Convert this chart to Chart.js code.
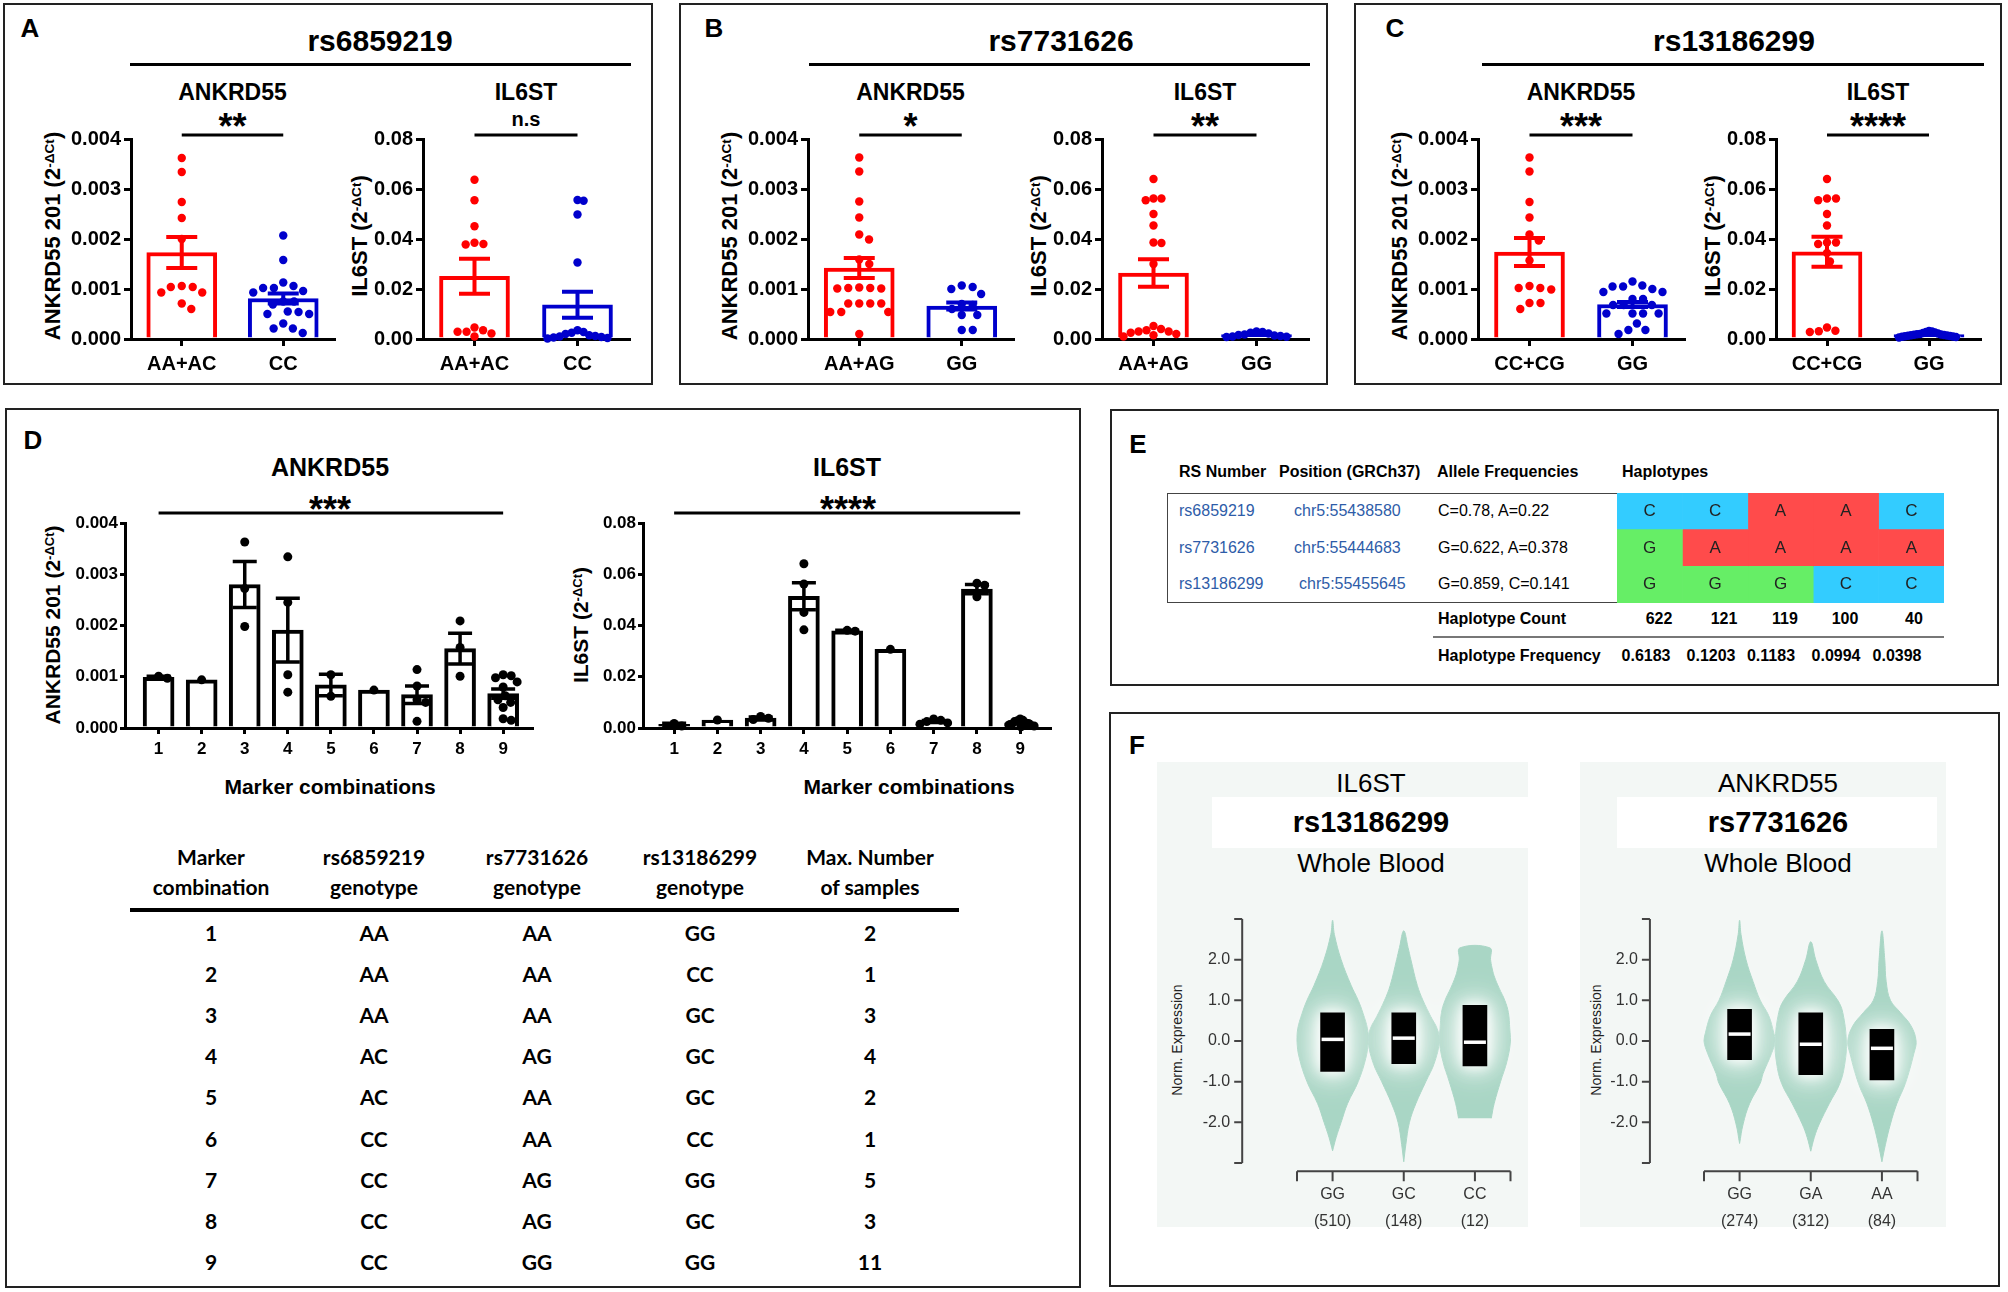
<!DOCTYPE html>
<html>
<head>
<meta charset="utf-8">
<title>ANKRD55 / IL6ST expression by genotype</title>
<script src="https://cdn.jsdelivr.net/npm/chart.js@4.4.1/dist/chart.umd.min.js"></script>
<style>
  body { margin: 0; background: #fff; }
  #page { position: relative; width: 2008px; height: 1292px; overflow: hidden; font-family: "Liberation Sans", Arial, sans-serif; color: #000; }
  #page div, #page canvas { position: absolute; }
  .t { transform: translate(-50%, -50%); white-space: nowrap; line-height: 1; }
  .tl { transform: translate(0, -50%); white-space: nowrap; line-height: 1; }
  .v { transform: translate(-50%, -50%) rotate(-90deg); white-space: nowrap; line-height: 1; }
  sup { font-size: 0.62em; position: relative; top: -0.45em; vertical-align: baseline; }
</style>
</head>
<body>
<div id="page"></div>
<script>
// ---------- panels A-C : expression by genotype group ----------
const groupsA = ['AA+AC', 'CC'];
const groupsB = ['AA+AG', 'GG'];
const groupsC = ['CC+CG', 'GG'];

const ankA_mean = [0.00173, 0.00081];
const ankA_sem = [0.00031, 0.00010];
const ankA_pts = [
  [0.00362, 0.00334, 0.00274, 0.00242, 0.00200, 0.00106, 0.00104, 0.00104, 0.00093, 0.00093, 0.00071, 0.00060],
  [0.00207, 0.00158, 0.00113, 0.00106, 0.00102, 0.00102, 0.00096, 0.00093, 0.00075, 0.00075, 0.00069, 0.00055,
   0.00054, 0.00050, 0.00050, 0.00031, 0.00021, 0.00021, 0.00012]
];
const il6A_mean = [0.0251, 0.0137];
const il6A_sem = [0.0070, 0.0052];
const il6A_pts = [
  [0.0637, 0.0555, 0.0451, 0.0385, 0.0380, 0.0378, 0.0046, 0.0035, 0.0029, 0.0029, 0.0022, 0.0010],
  [0.0556, 0.0553, 0.0498, 0.0306, 0.0035, 0.0028, 0.0025, 0.0020, 0.0015, 0.0012, 0.0010, 0.0008, 0.0006, 0.0004, 0.0002]
];

const ankB_mean = [0.00142, 0.00066];
const ankB_sem = [0.00020, 0.00007];
const ankB_pts = [
  [0.00363, 0.00335, 0.00275, 0.00243, 0.00209, 0.00199, 0.00159, 0.00150, 0.00103, 0.00102, 0.00102, 0.00101,
   0.00101, 0.00071, 0.00071, 0.00071, 0.00071, 0.00054, 0.00054, 0.00054, 0.00010],
  [0.00107, 0.00104, 0.00100, 0.00090, 0.00070, 0.00068, 0.00060, 0.00048, 0.00048, 0.00018, 0.00018]
];
const il6B_mean = [0.0264, 0.0018];
const il6B_sem = [0.0055, 0.0002];
const il6B_pts = [
  [0.0640, 0.0562, 0.0562, 0.0555, 0.0500, 0.0454, 0.0386, 0.0384, 0.0300, 0.0052, 0.0040, 0.0035, 0.0030,
   0.0030, 0.0025, 0.0020, 0.0015, 0.0010],
  [0.0030, 0.0028, 0.0025, 0.0022, 0.0018, 0.0016, 0.0014, 0.0012, 0.0010, 0.0009, 0.0008]
];

const ankC_mean = [0.00174, 0.00069];
const ankC_sem = [0.00028, 0.00005];
const ankC_pts = [
  [0.00363, 0.00335, 0.00274, 0.00243, 0.00209, 0.00197, 0.00157, 0.00106, 0.00102, 0.00102, 0.00099, 0.00072,
   0.00072, 0.00060],
  [0.00115, 0.00107, 0.00105, 0.00105, 0.00100, 0.00094, 0.00094, 0.00080, 0.00080, 0.00068, 0.00068, 0.00068,
   0.00051, 0.00051, 0.00051, 0.00051, 0.00031, 0.00018, 0.00018, 0.00010]
];
const il6C_mean = [0.0349, 0.0018];
const il6C_sem = [0.0060, 0.0002];
const il6C_pts = [
  [0.0640, 0.0562, 0.0562, 0.0555, 0.0500, 0.0454, 0.0386, 0.0386, 0.0380, 0.0344, 0.0310, 0.0046, 0.0033,
   0.0031, 0.0028],
  [0.0032, 0.0030, 0.0028, 0.0026, 0.0024, 0.0022, 0.0020, 0.0019, 0.0018, 0.0017, 0.0016, 0.0015, 0.0014,
   0.0013, 0.0012, 0.0011, 0.0010, 0.0009, 0.0008, 0.0006]
];

// ---------- panel D : marker combinations ----------
const markers = [1, 2, 3, 4, 5, 6, 7, 8, 9];
const ankD_mean = [0.00099, 0.00094, 0.00280, 0.00191, 0.00084, 0.00074, 0.00065, 0.00155, 0.00067];
const ankD_sem = [0.00002, 0, 0.00045, 0.00062, 0.00021, 0, 0.00017, 0.00030, 0.00009];
const ankD_pts = [
  [0.00097, 0.00101], [0.00094], [0.00363, 0.00272, 0.00198], [0.00334, 0.00245, 0.00104, 0.00070],
  [0.00104, 0.00062], [0.00074], [0.00114, 0.00082, 0.00055, 0.00050, 0.00013], [0.00209, 0.00157, 0.00101],
  [0.00104, 0.00102, 0.00098, 0.00090, 0.00080, 0.00063, 0.00055, 0.00050, 0.00040, 0.00018, 0.00015]
];
const il6D_mean = [0.0014, 0.0031, 0.0039, 0.0514, 0.0379, 0.0307, 0.0025, 0.0542, 0.0020];
const il6D_sem = [0.0005, 0, 0.0004, 0.0053, 0.0002, 0, 0.0004, 0.0018, 0.0003];
const il6D_pts = [
  [0.0008, 0.0018], [0.0031], [0.0045, 0.0038, 0.0033], [0.0641, 0.0562, 0.0451, 0.0383], [0.0381, 0.0378],
  [0.0307], [0.0035, 0.0030, 0.0025, 0.0020, 0.0015], [0.0565, 0.0557, 0.0512],
  [0.0035, 0.0030, 0.0028, 0.0025, 0.0020, 0.0018, 0.0015, 0.0012, 0.0010, 0.0008, 0.0005]
];
const geno6859219 = ['AA', 'AA', 'AA', 'AC', 'AC', 'CC', 'CC', 'CC', 'CC'];
const geno7731626 = ['AA', 'AA', 'AA', 'AG', 'AA', 'AA', 'AG', 'AG', 'GG'];
const geno13186299 = ['GG', 'CC', 'GC', 'GC', 'GC', 'CC', 'GG', 'GC', 'GG'];
const maxSamples = [2, 1, 3, 4, 2, 1, 5, 3, 11];

// ---------- panel E : haplotypes ----------
const snpIds = ['rs6859219', 'rs7731626', 'rs13186299'];
const snpPos = ['chr5:55438580', 'chr5:55444683', 'chr5:55455645'];
const alleleFreq = ['C=0.78, A=0.22', 'G=0.622, A=0.378', 'G=0.859, C=0.141'];
const haplotypes = ['CGG', 'CAG', 'AAG', 'AAC', 'CAC'];
const haploCount = [622, 121, 119, 100, 40];
const haploFreq = ['0.6183', '0.1203', '0.1183', '0.0994', '0.0398'];

// ---------- panel F : eQTL violins ----------
const il6Geno = ['GG', 'GC', 'CC'];
const il6N = [510, 148, 12];
const il6VioY = [
  [-2.70, -2.37, -2.00, -1.54, -1.00, -0.40, 0.00, 0.30, 0.67, 1.00, 1.37, 2.00, 2.62, 2.97],
  [-2.97, -2.54, -2.00, -1.54, -1.00, -0.54, 0.00, 0.30, 0.60, 1.00, 1.37, 2.00, 2.30, 2.71],
  [-1.90, -1.54, -1.00, -0.50, 0.00, 0.30, 0.70, 1.00, 1.30, 1.60, 1.80, 2.00, 2.29]
];
const il6VioW = [
  [0, 0.05, 0.12, 0.21, 0.36, 0.47, 0.50, 0.49, 0.43, 0.36, 0.26, 0.12, 0.025, 0],
  [0, 0.03, 0.08, 0.17, 0.31, 0.43, 0.50, 0.47, 0.38, 0.27, 0.19, 0.10, 0.06, 0],
  [0.23, 0.27, 0.36, 0.45, 0.50, 0.49, 0.47, 0.42, 0.34, 0.27, 0.24, 0.22, 0.21]
];
const il6Q1 = [-0.75, -0.56, -0.61];
const il6Q3 = [0.69, 0.69, 0.875];
const il6Med = [0.04, 0.07, -0.03];

const ankGeno = ['GG', 'GA', 'AA'];
const ankN = [274, 312, 84];
const ankVioY = [
  [-2.52, -2.04, -1.54, -1.04, -0.80, -0.30, 0.00, 0.20, 0.62, 1.00, 1.46, 2.00, 2.62, 2.97],
  [-2.71, -2.37, -2.04, -1.54, -1.04, -0.54, 0.00, 0.70, 1.00, 1.46, 2.00, 2.44],
  [-2.97, -2.54, -2.04, -1.54, -1.04, -0.30, 0.00, 0.37, 0.70, 1.00, 1.46, 2.00, 2.71]
];
const ankVioW = [
  [0, 0.05, 0.14, 0.29, 0.33, 0.45, 0.50, 0.48, 0.41, 0.29, 0.19, 0.09, 0.02, 0],
  [0, 0.05, 0.12, 0.26, 0.41, 0.48, 0.50, 0.45, 0.38, 0.19, 0.07, 0],
  [0, 0.05, 0.12, 0.21, 0.33, 0.45, 0.48, 0.41, 0.26, 0.12, 0.06, 0.04, 0]
];
const ankQ1 = [-0.46, -0.83, -0.96];
const ankQ3 = [0.78, 0.69, 0.29];
const ankMed = [0.17, -0.08, -0.18];

const vioTicks = [-3, -2, -1, 0, 1, 2, 3];
const vioTickLabels = [-2, -1, 0, 1, 2];

// ---------- helpers ----------
Chart.defaults.font.family = "'Liberation Sans', Arial, sans-serif";
Chart.defaults.color = '#000';
const RED = '#ff0000';
const BLUE = '#0000cc';
const VIO = '#a9d6c5';
const alleleColor = { A: '#ff4b4b', C: '#33ccff', G: '#66ee66' };

const page = document.getElementById('page');
function div(cls, x, y, html, css) {
  const d = document.createElement('div');
  d.className = cls;
  d.style.left = x + 'px';
  d.style.top = y + 'px';
  if (css) d.style.cssText += css;
  d.innerHTML = html;
  page.appendChild(d);
  return d;
}
function box(x, y, w, h, css) {
  return div('', x, y, '', 'width:' + w + 'px;height:' + h + 'px;box-sizing:border-box;' + css);
}
function canvasAt(x, y, w, h) {
  const c = document.createElement('canvas');
  c.width = w; c.height = h;
  c.style.left = x + 'px'; c.style.top = y + 'px';
  c.style.width = w + 'px'; c.style.height = h + 'px';
  page.appendChild(c);
  return c;
}

// spread points sideways (beeswarm) so they don't sit on top of each other
const swarmPlugin = {
  id: 'swarm',
  afterDatasetsUpdate(chart) {
    chart.data.datasets.forEach((ds, i) => {
      if (!ds.swarm) return;
      const D = ds.swarm;
      const meta = chart.getDatasetMeta(i);
      const groups = {};
      meta.data.forEach((el, j) => {
        const k = ds.data[j].x;
        (groups[k] = groups[k] || []).push(el);
      });
      Object.values(groups).forEach(els => {
        const cx = els[0].x;
        const placed = [];
        els.slice().sort((a, b) => a.y - b.y).forEach(el => {
          const cands = [0];
          placed.forEach(p => {
            const dy = el.y - p.y;
            if (Math.abs(dy) < D) {
              const w = Math.sqrt(D * D - dy * dy);
              cands.push(p.dx + w, p.dx - w);
            }
          });
          cands.sort((a, b) => Math.abs(a) - Math.abs(b));
          const dx = cands.find(c => placed.every(p => (c - p.dx) ** 2 + (el.y - p.y) ** 2 >= D * D - 0.5));
          placed.push({ dx: dx, y: el.y, el: el });
        });
        // squeeze wide clusters back inside the bar
        const widest = Math.max(...placed.map(p => Math.abs(p.dx)));
        const k = widest > ds.swarmMax ? ds.swarmMax / widest : 1;
        placed.forEach(p => { p.el.x = cx + p.dx * k; });
      });
    });
  }
};

// mean +/- SEM whiskers
const errPlugin = {
  id: 'err',
  afterDatasetsDraw(chart) {
    const { ctx, scales: { y } } = chart;
    chart.data.datasets.forEach((ds, i) => {
      if (!ds.sem) return;
      const meta = chart.getDatasetMeta(i);
      ctx.save();
      ctx.lineWidth = ds.errWidth;
      meta.data.forEach((el, j) => {
        const s = ds.sem[j];
        if (!s) return;
        const d = ds.data[j];
        const m = typeof d === 'object' ? d.y : d;
        const yt = y.getPixelForValue(m + s), yb = y.getPixelForValue(m - s);
        const hw = ds.capW / 2;
        ctx.strokeStyle = Array.isArray(ds.errColor) ? ds.errColor[j] : ds.errColor;
        ctx.beginPath();
        ctx.moveTo(el.x, yt); ctx.lineTo(el.x, yb);
        ctx.moveTo(el.x - hw, yt); ctx.lineTo(el.x + hw, yt);
        ctx.moveTo(el.x - hw, yb); ctx.lineTo(el.x + hw, yb);
        ctx.stroke();
      });
      ctx.restore();
    });
  }
};

// significance bar above the plot
const sigPlugin = {
  id: 'sig',
  afterDraw(chart, args, o) {
    if (!o || o.from === undefined) return;
    const { ctx, chartArea, scales: { x } } = chart;
    const y = chartArea.top - o.dy;
    ctx.save();
    ctx.strokeStyle = '#000';
    ctx.lineWidth = 3;
    ctx.beginPath();
    ctx.moveTo(x.getPixelForValue(o.from), y);
    ctx.lineTo(x.getPixelForValue(o.to), y);
    ctx.stroke();
    ctx.restore();
  }
};

function axisY(max, step, dec, size, tl, pad, YW) {
  return {
    min: 0, max: max,
    ticks: { stepSize: step, callback: v => v.toFixed(dec), font: { size: size, weight: 'bold' }, color: '#000', padding: pad },
    grid: { drawOnChartArea: false, tickLength: tl, lineWidth: 3, color: '#000' },
    border: { display: true, width: 3, color: '#000' },
    afterFit: s => { s.width = YW; }
  };
}

// bar + dots chart for two genotype groups (panels A-C)
function groupChart(s) {
  const t = 134, b = 339, YW = 66, XH = 40, PL = 24;
  const cv = canvasAt(s.l - YW - PL, t - 10, s.r - s.l + YW + PL + 12, b - t + 10 + XH + 8);
  const colors = [RED, BLUE];
  new Chart(cv, {
    type: 'bar',
    data: {
      labels: s.groups,
      datasets: [
        ...s.pts.map((p, g) => ({
          type: 'scatter', data: p.map(v => ({ x: s.groups[g], y: v })), backgroundColor: colors[g],
          borderWidth: 0, pointRadius: 4.2, swarm: s.swarm, swarmMax: 30, clip: false
        })),
        {
          data: s.mean, sem: s.sem, backgroundColor: '#fff', borderColor: colors, borderWidth: 4,
          barThickness: 70, errColor: colors, errWidth: 4, capW: 31
        }
      ]
    },
    options: {
      responsive: false, animation: false, events: [],
      layout: { padding: { left: PL, top: 10, right: 12, bottom: 8 } },
      plugins: { legend: { display: false }, tooltip: { enabled: false }, sig: { from: 0, to: 1, dy: 4 } },
      scales: {
        x: {
          offset: true,
          ticks: { font: { size: 20, weight: 'bold' }, color: '#000', padding: 6 },
          grid: { offset: false, drawOnChartArea: false, tickLength: 7, lineWidth: 3, color: '#000' },
          border: { display: true, width: 3, color: '#000' },
          afterFit: sc => { sc.height = XH; }
        },
        y: axisY(s.axis.max, s.axis.step, s.axis.dec, 20, 7, 3, YW)
      }
    },
    plugins: [swarmPlugin, errPlugin, sigPlugin]
  });
}

// bar + dots chart over the nine marker combinations (panel D)
function comboChart(s) {
  const t = 523, b = 728, YW = 60, XH = 34, PL = 20;
  const cv = canvasAt(s.l - YW - PL, t - 15, s.r - s.l + YW + PL + 12, b - t + 15 + XH + 8);
  new Chart(cv, {
    type: 'bar',
    data: {
      datasets: [
        {
          type: 'scatter', data: s.pts.flatMap((p, i) => p.map(v => ({ x: markers[i], y: v }))),
          backgroundColor: '#000', borderWidth: 0, pointRadius: 4.5, swarm: s.swarm, swarmMax: 14, clip: false
        },
        {
          data: markers.map((m, i) => ({ x: m, y: s.mean[i] })), sem: s.sem, backgroundColor: '#fff',
          borderColor: '#000', borderWidth: 4, barThickness: 31, errColor: '#000', errWidth: 3.5, capW: 24
        }
      ]
    },
    options: {
      responsive: false, animation: false, events: [],
      layout: { padding: { left: PL, top: 15, right: 12, bottom: 8 } },
      plugins: { legend: { display: false }, tooltip: { enabled: false }, sig: { from: 1, to: 9, dy: 10 } },
      scales: {
        x: {
          type: 'linear', min: s.min, max: s.max, offset: false,
          afterBuildTicks: sc => { sc.ticks = markers.map(v => ({ value: v })); },
          ticks: { font: { size: 17, weight: 'bold' }, color: '#000', padding: 5 },
          grid: { offset: false, drawOnChartArea: false, tickLength: 6, lineWidth: 3, color: '#000' },
          border: { display: true, width: 3, color: '#000' },
          afterFit: sc => { sc.height = XH; }
        },
        y: axisY(s.axis.max, s.axis.step, s.axis.dec, 17, 5, 2, YW)
      }
    },
    plugins: [swarmPlugin, errPlugin, sigPlugin]
  });
}

// white halo around the box, like the GTEx violin rendering
const glowPlugin = {
  id: 'glow',
  beforeDatasetDraw(chart, args) {
    const ds = chart.data.datasets[args.index];
    if (!ds.glow) return;
    const ctx = chart.ctx;
    ctx.save();
    ctx.fillStyle = 'rgba(255,255,255,0.9)';
    ctx.shadowColor = 'rgba(255,255,255,1)';
    args.meta.data.forEach(el => {
      const top = Math.min(el.y, el.base), h = Math.abs(el.base - el.y);
      [40, 30, 20, 12].forEach(bl => {
        ctx.shadowBlur = bl;
        ctx.fillRect(el.x - el.width / 2, top, el.width, h);
      });
    });
    ctx.restore();
  }
};

// detached GTEx style axes drawn from the chart scales
const vioAxesPlugin = {
  id: 'vaxes',
  afterDraw(chart, args, o) {
    if (!o || !o.labels) return;
    const { ctx, scales: { x, y } } = chart;
    ctx.save();
    ctx.strokeStyle = '#444';
    ctx.lineWidth = 2;
    const ax = x.getPixelForValue(o.yAxisAt);
    const yt = y.getPixelForValue(y.max), yb = y.getPixelForValue(y.min);
    ctx.beginPath();
    ctx.moveTo(ax, yt); ctx.lineTo(ax, yb);
    o.yTicks.forEach(v => { const p = y.getPixelForValue(v); ctx.moveTo(ax, p); ctx.lineTo(ax - 8, p); });
    const ay = y.getPixelForValue(o.xAxisAt);
    const xl = x.getPixelForValue(x.min), xr = x.getPixelForValue(x.max);
    ctx.moveTo(xl, ay); ctx.lineTo(xr, ay);
    [x.min, ...o.labels.map((_, i) => i), x.max].forEach(v => {
      const p = x.getPixelForValue(v);
      ctx.moveTo(p, ay); ctx.lineTo(p, ay + 10);
    });
    ctx.stroke();
    ctx.fillStyle = '#333';
    ctx.font = "16px 'Liberation Sans', Arial, sans-serif";
    ctx.textAlign = 'right';
    ctx.textBaseline = 'middle';
    o.yLabels.forEach(v => ctx.fillText(v.toFixed(1), ax - 12, y.getPixelForValue(v)));
    ctx.textAlign = 'center';
    o.labels.forEach((l, i) => {
      const p = x.getPixelForValue(i);
      ctx.fillText(l, p, ay + 23);
      ctx.fillText('(' + o.counts[i] + ')', p, ay + 50);
    });
    ctx.restore();
  }
};

function outline(c, ys, ws) {
  const pts = ys.map((y, k) => ({ x: c + ws[k], y: y }));
  for (let k = ys.length - 1; k >= 0; k--) {
    if (k === ys.length - 1 && ws[k] === 0) continue;
    pts.push({ x: c - ws[k], y: ys[k] });
  }
  return pts;
}

function violinChart(s) {
  const t = 919, b = 1163;
  const cv = canvasAt(s.l - 137, t - 19, 137 + (s.r - s.l) + 14, 19 + (b - t) + 77);
  new Chart(cv, {
    type: 'scatter',
    data: {
      datasets: [
        {
          data: s.med.map((m, i) => ({ x: i, y: m })), pointStyle: 'line', pointRadius: 11,
          borderColor: '#fff', borderWidth: 3.5, clip: false
        },
        {
          type: 'bar', data: s.q1.map((q, i) => ({ x: i, y: [q, s.q3[i]] })), backgroundColor: '#000',
          borderWidth: 0, barThickness: 24, glow: true
        },
        ...s.vy.map((ys, i) => ({
          data: outline(i, ys, s.vw[i]), showLine: true, fill: 'shape', backgroundColor: VIO,
          borderColor: VIO, borderWidth: 1, pointRadius: 0, tension: 0.4, clip: false
        }))
      ]
    },
    options: {
      responsive: false, animation: false, events: [],
      layout: { padding: { left: 137, top: 19, right: 14, bottom: 77 } },
      plugins: {
        legend: { display: false }, tooltip: { enabled: false },
        vaxes: {
          labels: s.geno, counts: s.n, yTicks: vioTicks, yLabels: vioTickLabels,
          yAxisAt: s.yAxisAt, xAxisAt: -3.2
        }
      },
      scales: {
        x: { type: 'linear', min: -0.5, max: 2.5, offset: false, display: false },
        y: { min: -3, max: 3, display: false }
      }
    },
    plugins: [glowPlugin, vioAxesPlugin]
  });
}

// ---------- frames ----------
const FRAME = 'border:2px solid #222;';
box(3, 3, 650, 382, FRAME);
box(679, 3, 649, 382, FRAME);
box(1354, 3, 648, 382, FRAME);
box(5, 408, 1076, 880, FRAME);
box(1110, 409, 889, 277, FRAME);
box(1109, 712, 891, 575, FRAME);

// ---------- panels A-C ----------
const LETTER = 'font-weight:bold;font-size:26px;';
const ankAxis = { max: 0.004, step: 0.001, dec: 3 };
const il6Axis = { max: 0.08, step: 0.02, dec: 2 };
const ankTitle = 'ANKRD55 201 (2<sup>-ΔCt</sup>)';
const il6Title = 'IL6ST (2<sup>-ΔCt</sup>)';

[['A', 30, 380, 130, 631], ['B', 714, 1061, 809, 1310], ['C', 1395, 1734, 1482, 1984]].forEach((p, i) => {
  div('t', p[1], 28, p[0], LETTER);
  div('t', p[2], 41, snpIds[i], 'font-weight:bold;font-size:30px;');
  box(p[3], 63, p[4] - p[3], 3, 'background:#000;');
});

const grpSpecs = [
  { l: 131, r: 334, groups: groupsA, mean: ankA_mean, sem: ankA_sem, pts: ankA_pts, axis: ankAxis, gene: 'ANKRD55', sig: '**', swarm: 11 },
  { l: 423, r: 629, groups: groupsA, mean: il6A_mean, sem: il6A_sem, pts: il6A_pts, axis: il6Axis, gene: 'IL6ST', sig: 'n.s', swarm: 9 },
  { l: 808, r: 1013, groups: groupsB, mean: ankB_mean, sem: ankB_sem, pts: ankB_pts, axis: ankAxis, gene: 'ANKRD55', sig: '*', swarm: 11 },
  { l: 1102, r: 1308, groups: groupsB, mean: il6B_mean, sem: il6B_sem, pts: il6B_pts, axis: il6Axis, gene: 'IL6ST', sig: '**', swarm: 9 },
  { l: 1478, r: 1684, groups: groupsC, mean: ankC_mean, sem: ankC_sem, pts: ankC_pts, axis: ankAxis, gene: 'ANKRD55', sig: '***', swarm: 11 },
  { l: 1776, r: 1980, groups: groupsC, mean: il6C_mean, sem: il6C_sem, pts: il6C_pts, axis: il6Axis, gene: 'IL6ST', sig: '****', swarm: 9 }
];
grpSpecs.forEach(s => {
  const cx = (s.l + s.r) / 2;
  const ank = s.gene === 'ANKRD55';
  div('t', cx, 92, s.gene, 'font-weight:bold;font-size:23px;');
  if (s.sig === 'n.s') div('t', cx, 119, s.sig, 'font-weight:bold;font-size:20px;');
  else div('t', cx, 127, s.sig, 'font-weight:bold;font-size:36px;');
  div('v', s.l - (ank ? 78 : 63), 236, ank ? ankTitle : il6Title, 'font-weight:bold;font-size:22px;');
  groupChart(s);
});

// ---------- panel D ----------
div('t', 33, 440, 'D', LETTER);
div('t', 330, 467, 'ANKRD55', 'font-weight:bold;font-size:25px;');
div('t', 847, 467, 'IL6ST', 'font-weight:bold;font-size:25px;');
div('t', 330, 510, '***', 'font-weight:bold;font-size:36px;');
div('t', 848, 510, '****', 'font-weight:bold;font-size:36px;');
div('v', 52, 625, ankTitle, 'font-weight:bold;font-size:21px;');
div('v', 580, 625, il6Title, 'font-weight:bold;font-size:21px;');
div('t', 330, 786, 'Marker combinations', 'font-weight:bold;font-size:21px;');
div('t', 909, 786, 'Marker combinations', 'font-weight:bold;font-size:21px;');
comboChart({ l: 125, r: 532, min: 0.22, max: 9.67, mean: ankD_mean, sem: ankD_sem, pts: ankD_pts, axis: ankAxis, swarm: 9 });
comboChart({ l: 643, r: 1050, min: 0.28, max: 9.69, mean: il6D_mean, sem: il6D_sem, pts: il6D_pts, axis: il6Axis, swarm: 8 });

const TBL = 'font-family:Lato,sans-serif;font-weight:700;font-size:21px;';
const tblCols = [211, 374, 537, 700, 870];
const tblHead = [['Marker', 'combination'], ['rs6859219', 'genotype'], ['rs7731626', 'genotype'],
  ['rs13186299', 'genotype'], ['Max. Number', 'of samples']];
tblHead.forEach((h, c) => {
  div('t', tblCols[c], 856, h[0], TBL);
  div('t', tblCols[c], 886, h[1], TBL);
});
box(130, 908, 829, 4, 'background:#000;');
markers.forEach((m, i) => {
  const y = 932 + i * 41.1;
  [m, geno6859219[i], geno7731626[i], geno13186299[i], maxSamples[i]].forEach((v, c) => div('t', tblCols[c], y, v, TBL));
});

// ---------- panel E ----------
div('t', 1138, 444, 'E', LETTER);
const EH = 'font-weight:bold;font-size:16px;';
const EB = 'font-size:16px;';
const LINK = 'font-size:16px;color:#2e5ca8;';
div('tl', 1179, 472, 'RS Number', EH);
div('tl', 1279, 472, 'Position (GRCh37)', EH);
div('tl', 1437, 472, 'Allele Frequencies', EH);
div('tl', 1622, 472, 'Haplotypes', EH);
box(1167, 493, 451, 110, 'border:1.5px solid #444;');
snpIds.forEach((id, r) => {
  const y = 511 + r * 36.7;
  div('tl', 1179, y, id, LINK);
  div('tl', r === 2 ? 1299 : 1294, y, snpPos[r], LINK);
  div('tl', 1438, y, alleleFreq[r], EB);
});
div('tl', 1438, 619, 'Haplotype Count', EH);
div('tl', 1438, 656, 'Haplotype Frequency', EH);
box(1433, 636, 511, 2, 'background:#777;');
[1659, 1724, 1785, 1845, 1914].forEach((x, h) => div('t', x, 619, haploCount[h], EH));
[1646, 1711, 1771, 1836, 1897].forEach((x, h) => div('t', x, 656, haploFreq[h], EH));

const cellLetters = {
  id: 'cellLetters',
  afterDatasetsDraw(chart) {
    const ctx = chart.ctx;
    ctx.save();
    ctx.fillStyle = '#222';
    ctx.font = "17px 'Liberation Sans', Arial, sans-serif";
    ctx.textAlign = 'center';
    ctx.textBaseline = 'middle';
    chart.data.datasets.forEach((ds, i) => {
      chart.getDatasetMeta(i).data.forEach((el, r) => ctx.fillText(ds.alleles[r], (el.x + el.base) / 2, el.y));
    });
    ctx.restore();
  }
};
new Chart(canvasAt(1617, 493, 327, 110), {
  type: 'bar',
  data: {
    labels: snpIds,
    datasets: haplotypes.map(hap => ({
      data: snpIds.map(() => 1),
      alleles: hap.split(''),
      backgroundColor: hap.split('').map(a => alleleColor[a]),
      borderWidth: 0, barPercentage: 1, categoryPercentage: 1
    }))
  },
  options: {
    indexAxis: 'y', responsive: false, animation: false, events: [],
    layout: { padding: 0 },
    plugins: { legend: { display: false }, tooltip: { enabled: false } },
    scales: {
      x: { stacked: true, min: 0, max: haplotypes.length, display: false },
      y: { stacked: true, display: false }
    }
  },
  plugins: [cellLetters]
});

// ---------- panel F ----------
div('t', 1137, 745, 'F', LETTER);
box(1157, 762, 371, 465, 'background:#f3f7f5;');
box(1580, 762, 366, 465, 'background:#f3f7f5;');
box(1212, 797, 319, 51, 'background:#fff;');
box(1617, 797, 320, 51, 'background:#fff;');
[[1371, 'IL6ST', 'rs13186299', 1177], [1778, 'ANKRD55', 'rs7731626', 1596]].forEach(p => {
  div('t', p[0], 783, p[1], 'font-size:26px;');
  div('t', p[0], 822, p[2], 'font-weight:bold;font-size:29px;');
  div('t', p[0], 863, 'Whole Blood', 'font-size:26px;');
  div('v', p[3], 1040, 'Norm. Expression', 'font-size:14px;color:#222;');
});
violinChart({ l: 1297, r: 1511, geno: il6Geno, n: il6N, vy: il6VioY, vw: il6VioW, q1: il6Q1, q3: il6Q3, med: il6Med, yAxisAt: -1.27 });
violinChart({ l: 1704, r: 1918, geno: ankGeno, n: ankN, vy: ankVioY, vw: ankVioW, q1: ankQ1, q3: ankQ3, med: ankMed, yAxisAt: -1.26 });
</script>
</body>
</html>
